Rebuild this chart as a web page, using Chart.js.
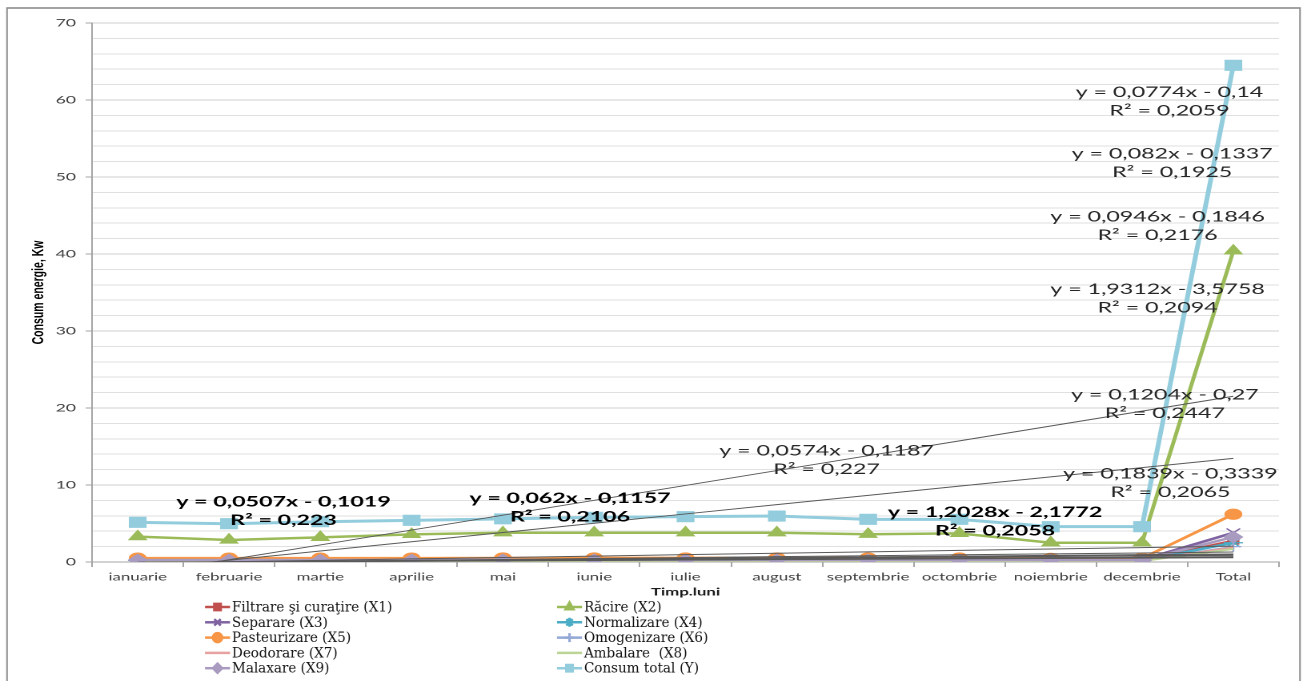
<!DOCTYPE html>
<html><head><meta charset="utf-8">
<script src="https://cdn.jsdelivr.net/npm/chart.js@4/dist/chart.umd.min.js"></script>
<style>html,body{margin:0;padding:0;background:#fff;overflow:hidden}
#c{display:block}</style></head>
<body><canvas id="c" width="814" height="681" style="width:1303px;height:681px"></canvas>
<script>
// ---------- data ----------
const categories = ['ianuarie','februarie','martie','aprilie','mai','iunie','iulie','august','septembrie','octombrie','noiembrie','decembrie','Total'];
const filtrare     = [0.22,0.23,0.22,0.22,0.23,0.24,0.24,0.24,0.23,0.23,0.22,0.22,2.75];
const racire       = [3.29,2.86,3.2,3.59,3.8,3.8,3.8,3.8,3.6,3.72,2.5,2.5,40.4];
const separare     = [0.31,0.3,0.31,0.32,0.33,0.34,0.34,0.34,0.32,0.32,0.29,0.29,3.8];
const normalizare  = [0.2,0.2,0.2,0.21,0.21,0.22,0.22,0.22,0.21,0.21,0.19,0.19,2.5];
const pasteurizare = [0.5,0.5,0.5,0.51,0.52,0.53,0.53,0.53,0.52,0.52,0.48,0.48,6.2];
const omogenizare  = [0.16,0.16,0.16,0.17,0.17,0.18,0.18,0.18,0.17,0.17,0.15,0.15,2.0];
const deodorare    = [0.15,0.15,0.15,0.16,0.16,0.17,0.17,0.17,0.16,0.16,0.14,0.14,1.9];
const ambalare     = [0.13,0.13,0.13,0.14,0.14,0.15,0.15,0.15,0.14,0.14,0.12,0.12,1.7];
const malaxare     = [0.26,0.26,0.26,0.27,0.28,0.28,0.28,0.28,0.27,0.27,0.25,0.25,3.25];
const consumTotal  = [5.15,4.97,5.23,5.41,5.6,5.8,5.89,5.97,5.54,5.54,4.59,4.59,64.5];

const seriesNames = ['Filtrare şi curaţire (X1)','Răcire (X2)','Separare (X3)','Normalizare (X4)','Pasteurizare (X5)','Omogenizare (X6)','Deodorare (X7)','Ambalare  (X8)','Malaxare (X9)','Consum total (Y)'];
// trendline equations as printed on the chart (same order as series)
const trendSlope     = [0.082, 1.2028, 0.1204, 0.0774, 0.1839, 0.062, 0.0574, 0.0507, 0.0946, 1.9312];
const trendIntercept = [-0.1337, -2.1772, -0.27, -0.14, -0.3339, -0.1157, -0.1187, -0.1019, -0.1846, -3.5758];
const trendR2        = [0.1925, 0.2058, 0.2447, 0.2059, 0.2065, 0.2106, 0.227, 0.223, 0.2176, 0.2094];
const yTicksMajor = [0,10,20,30,40,50,60,70];

// ---------- presentation ----------
const CANVAS_W = 814, REAL_W = 1303;
const S = REAL_W / CANVAS_W; // horizontal stretch of the picture
const seriesData = [filtrare, racire, separare, normalizare, pasteurizare, omogenizare, deodorare, ambalare, malaxare, consumTotal];
const styles = [
  {c:'#C0504D', ps:'rect', r:4.5, w:2.5},
  {c:'#9BBB59', ps:'triangle', r:6, w:2.5},
  {c:'#8064A2', ps:'crossRot', r:6, w:2.5},
  {c:'#4BACC6', ps:'star', r:6, w:2.5},
  {c:'#F79646', ps:'circle', r:5, w:2.5},
  {c:'#95A9D6', ps:'cross', r:5, w:2},
  {c:'#E6A1A0', ps:'circle', r:0, w:2},
  {c:'#BCD495', ps:'circle', r:0, w:2},
  {c:'#A99BC0', ps:'rectRot', r:5.5, w:2.5},
  {c:'#93CDDD', ps:'rect', r:7, w:3}
];
// equation label anchors (category index, value) and weight
const labelCat = [11.33, 9.39, 11.25, 11.30, 11.31, 4.735, 7.545, 1.597, 11.17, 11.17];
const labelVal = [52.99, 6.45, 21.69, 61.0, 11.43, 8.27, 14.45, 7.83, 44.84, 35.4];
const labelBold = [false,true,false,false,false,true,false,true,false,false];

function fmt(n){ return String(Math.abs(n)).replace('.', ','); }

const datasets = [];
seriesData.forEach((d, i) => {
  const st = styles[i];
  datasets.push({
    label: seriesNames[i], data: d, borderColor: st.c, backgroundColor: st.c,
    borderWidth: st.w, pointStyle: st.ps, pointRadius: st.r, pointBorderWidth: 1.2,
    pointBackgroundColor: st.c, pointBorderColor: st.c, tension: 0, order: 20 - i
  });
});
seriesData.forEach((d, i) => {
  datasets.push({
    label: 'trend ' + i, data: categories.map((_, k) => trendSlope[i] * (k + 1) + trendIntercept[i]),
    borderColor: '#5a5a5a', borderWidth: 1, pointRadius: 0, order: 1
  });
});

const decor = {
  id: 'decor',
  beforeDraw(chart) {
    const ctx = chart.ctx;
    ctx.save();
    ctx.fillStyle = '#fff';
    ctx.fillRect(0, 0, chart.width, chart.height);
    ctx.scale(1 / S, 1);
    ctx.strokeStyle = '#8c8c8c';
    ctx.lineWidth = 1.6;
    ctx.strokeRect(7, 8, 1293, 690);
    ctx.restore();
  },
  afterDatasetsDraw(chart) {
    const ctx = chart.ctx;
    const xs = chart.scales.x, ys = chart.scales.y;
    ctx.save();
    ctx.textAlign = 'center';
    ctx.textBaseline = 'middle';
    for (let i = 0; i < seriesData.length; i++) {
      const x = xs.getPixelForValue(labelCat[i]);
      const y = ys.getPixelForValue(labelVal[i]);
      ctx.font = (labelBold[i] ? 'bold ' : '') + '14.5px Lato';
      ctx.fillStyle = labelBold[i] ? '#000' : '#262626';
      const eq = 'y = ' + fmt(trendSlope[i]) + 'x ' + (trendIntercept[i] < 0 ? '-' : '+') + ' ' + fmt(trendIntercept[i]);
      ctx.fillText(eq, x, y);
      ctx.fillText('R² = ' + fmt(trendR2[i]), x, y + 18.5);
    }
    ctx.restore();
  },
  afterDraw(chart) {
    // legend, drawn unstretched
    const ctx = chart.ctx;
    ctx.save();
    ctx.scale(1 / S, 1);
    ctx.font = '13.5px "DejaVu Serif"';
    ctx.textBaseline = 'middle';
    ctx.textAlign = 'left';
    const cols = [{x0:205, x1:230, tx:232}, {x0:557, x1:582, tx:584}];
    for (let i = 0; i < seriesNames.length; i++) {
      const col = cols[i % 2];
      const row = Math.floor(i / 2);
      const y = 607 + row * 15.3;
      const st = styles[i];
      ctx.strokeStyle = st.c; ctx.lineWidth = 2.5;
      ctx.beginPath(); ctx.moveTo(col.x0, y); ctx.lineTo(col.x1, y); ctx.stroke();
      if (st.r > 0) {
        ctx.fillStyle = st.c; ctx.strokeStyle = st.c;
        Chart.helpers.drawPoint(ctx, {pointStyle: st.ps, radius: 4.5, rotation: 0, borderWidth: 1}, (col.x0 + col.x1) / 2, y);
      }
      ctx.fillStyle = '#111';
      ctx.fillText(seriesNames[i], col.tx, y + 1);
    }
    ctx.restore();
  }
};

new Chart(document.getElementById('c'), {
  type: 'line',
  data: { labels: categories, datasets },
  options: {
    responsive: false, animation: false, devicePixelRatio: 2,
    layout: { padding: { left: 0, right: 15, top: 23, bottom: 79 } },
    plugins: { legend: { display: false }, tooltip: { enabled: false } },
    scales: {
      x: {
        type: 'category', offset: true,
        grid: { offset: true, drawOnChartArea: false, tickLength: 5, color: '#a6a6a6' },
        border: { color: '#a6a6a6', width: 1 },
        ticks: { font: { family: 'Lato', size: 10.5 }, color: '#404040', padding: 4, maxRotation: 0, autoSkip: false },
        title: { display: true, text: 'Timp.luni', font: { family: 'Lato', size: 10.5, weight: 'bold' }, color: '#1a1a1a', padding: { top: 0, bottom: 3.7 } },
        afterFit(s) { s.height = 40; }
      },
      y: {
        min: 0, max: 70,
        ticks: { stepSize: 2, autoSkip: false, font: { family: 'Lato', size: 11 }, color: '#404040', padding: 6,
          callback: v => yTicksMajor.includes(v) ? String(v) : '' },
        grid: { tickLength: 4, color: c => (c.tick && yTicksMajor.includes(c.tick.value)) ? '#cfcfcf' : '#e0e0e0',
          tickColor: c => (c.tick && yTicksMajor.includes(c.tick.value)) ? '#a6a6a6' : 'rgba(0,0,0,0)' },
        border: { color: '#a6a6a6', width: 1 },
        title: { display: true, text: 'Consum energie, Kw', font: { family: 'Liberation Sans', size: 10.5, weight: 'bold' }, color: '#000', padding: { top: 18, bottom: 0 } },
        afterFit(s) { s.width = 57.5; }
      }
    }
  },
  plugins: [decor]
});
</script>
</body></html>
